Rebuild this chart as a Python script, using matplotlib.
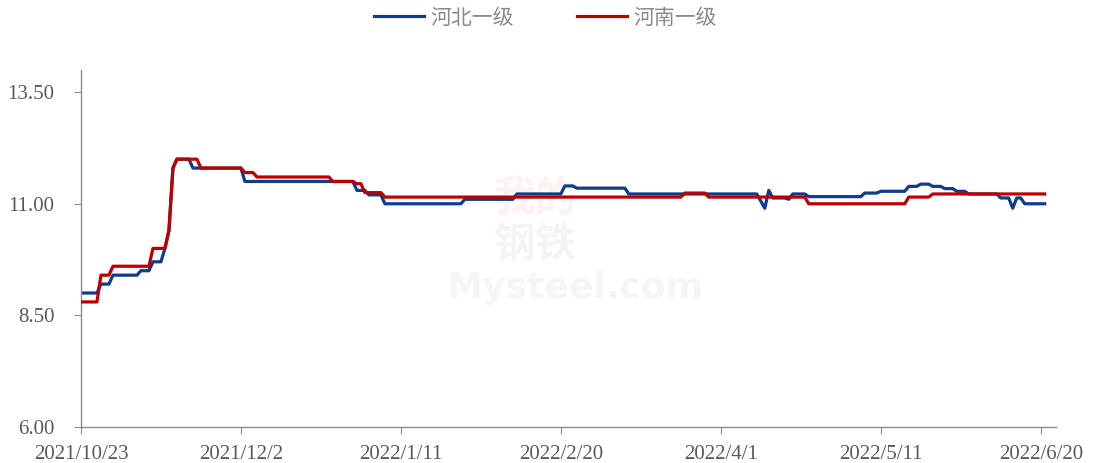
import matplotlib
matplotlib.use("Agg")
import matplotlib.pyplot as plt
import matplotlib.dates as mdates
import pandas as pd

plt.rcParams['font.family'] = ['Liberation Serif', 'DejaVu Sans']

# 河北一级 (blue)
hebei_dates = [
    '2021-10-23', '2021-10-27', '2021-10-28', '2021-10-30', '2021-10-31',
    '2021-11-06', '2021-11-07', '2021-11-09', '2021-11-10', '2021-11-12',
    '2021-11-13', '2021-11-14', '2021-11-15', '2021-11-16', '2021-11-19',
    '2021-11-20', '2021-12-02', '2021-12-03', '2021-12-30', '2021-12-31',
    '2022-01-02', '2022-01-03', '2022-01-06', '2022-01-07', '2022-01-26',
    '2022-01-27', '2022-02-08', '2022-02-09', '2022-02-20', '2022-02-21',
    '2022-02-23', '2022-02-24', '2022-03-08', '2022-03-09', '2022-04-10',
    '2022-04-12', '2022-04-13', '2022-04-14', '2022-04-17', '2022-04-18',
    '2022-04-19', '2022-04-22', '2022-04-23', '2022-05-06', '2022-05-07',
    '2022-05-10', '2022-05-11', '2022-05-17', '2022-05-18', '2022-05-20',
    '2022-05-21', '2022-05-23', '2022-05-24', '2022-05-26', '2022-05-27',
    '2022-05-29', '2022-05-30', '2022-06-01', '2022-06-02', '2022-06-09',
    '2022-06-10', '2022-06-12', '2022-06-13', '2022-06-14', '2022-06-15',
    '2022-06-16', '2022-06-21',
]
hebei_values = [
    9.0, 9.0, 9.2, 9.2, 9.4,
    9.4, 9.5, 9.5, 9.7, 9.7,
    10.0, 10.4, 11.8, 12.0, 12.0,
    11.8, 11.8, 11.5, 11.5, 11.3,
    11.3, 11.2, 11.2, 11.0, 11.0,
    11.1, 11.1, 11.22, 11.22, 11.4,
    11.4, 11.35, 11.35, 11.22, 11.22,
    10.9, 11.3, 11.13, 11.13, 11.1,
    11.22, 11.22, 11.16, 11.16, 11.24,
    11.24, 11.28, 11.28, 11.39, 11.39,
    11.44, 11.44, 11.39, 11.39, 11.34,
    11.34, 11.28, 11.28, 11.22, 11.22,
    11.13, 11.13, 10.9, 11.13, 11.13,
    11.0, 11.0,
]

# 河南一级 (red)
henan_dates = [
    '2021-10-23', '2021-10-27', '2021-10-28', '2021-10-30', '2021-10-31',
    '2021-11-09', '2021-11-10', '2021-11-13', '2021-11-14', '2021-11-15',
    '2021-11-16', '2021-11-21', '2021-11-22', '2021-12-02', '2021-12-03',
    '2021-12-05', '2021-12-06', '2021-12-24', '2021-12-25', '2021-12-30',
    '2021-12-31', '2022-01-01', '2022-01-02', '2022-01-06', '2022-01-07',
    '2022-03-22', '2022-03-23', '2022-03-28', '2022-03-29', '2022-04-22',
    '2022-04-23', '2022-05-17', '2022-05-18', '2022-05-23', '2022-05-24',
    '2022-06-21',
]
henan_values = [
    8.8, 8.8, 9.4, 9.4, 9.6,
    9.6, 10.0, 10.0, 10.4, 11.8,
    12.0, 12.0, 11.8, 11.8, 11.7,
    11.7, 11.6, 11.6, 11.5, 11.5,
    11.45, 11.45, 11.25, 11.25, 11.15,
    11.15, 11.24, 11.24, 11.15, 11.15,
    11.0, 11.0, 11.15, 11.15, 11.22,
    11.22,
]

x_ticks = ['2021-10-23', '2021-12-02', '2022-01-11', '2022-02-20',
           '2022-04-01', '2022-05-11', '2022-06-20']
y_ticks = [6.00, 8.50, 11.00, 13.50]

fig = plt.figure(figsize=(10.94, 4.63), dpi=100)
ax = fig.add_axes([0.074, 0.078, 0.891, 0.771])

# faint watermark
ax.text(0.466, 0.64, '我的', transform=ax.transAxes, ha='center', va='center',
        fontsize=30, fontweight='bold', color='#fdf2f2', zorder=0,
        family=['Noto Sans CJK SC'])
ax.text(0.466, 0.51, '钢铁', transform=ax.transAxes, ha='center', va='center',
        fontsize=30, fontweight='bold', color='#f3f4f8', zorder=0,
        family=['Noto Sans CJK SC'])
ax.text(0.507, 0.39, 'Mysteel.com', transform=ax.transAxes, ha='center',
        va='center', fontsize=26, fontweight='bold', color='#f5f5f5',
        zorder=0, family=['DejaVu Sans'])

ax.plot(pd.to_datetime(hebei_dates), hebei_values, color='#0d3d8c', lw=2.3,
        label='河北一级', zorder=2)
ax.plot(pd.to_datetime(henan_dates), henan_values, color='#c00000', lw=2.3,
        label='河南一级', zorder=3)

start = pd.Timestamp('2021-10-23')
ax.set_xlim(start, start + pd.Timedelta(days=243.75))
ax.set_ylim(6, 14)
ax.set_xticks(pd.to_datetime(x_ticks))
ax.xaxis.set_major_formatter(mdates.DateFormatter('%Y/%-m/%-d'))
ax.set_yticks(y_ticks)
ax.set_yticklabels(['%.2f' % v for v in y_ticks])

for s in ['top', 'right']:
    ax.spines[s].set_visible(False)
for s in ['left', 'bottom']:
    ax.spines[s].set_color('#8c8c8c')
    ax.spines[s].set_linewidth(1.0)
ax.tick_params(axis='both', colors='#8c8c8c', labelcolor='#595959',
               labelsize=15, length=5, direction='out')
ax.tick_params(axis='y', pad=14)
ax.tick_params(axis='x', pad=8)

leg = fig.legend(loc='center', bbox_to_anchor=(0.4986, 0.962), ncol=2,
                 frameon=False, handlelength=2.4, handletextpad=0.3,
                 columnspacing=3.0, prop={'family': ['Noto Sans CJK SC'], 'size': 15})
for t in leg.get_texts():
    t.set_color('#8a8a8a')

fig.savefig('out.png', dpi=100)
